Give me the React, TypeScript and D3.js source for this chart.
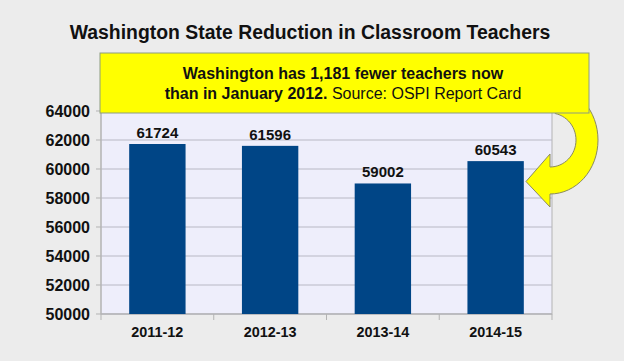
import React from "react";
import * as d3 from "d3";

const categories = ["2011-12", "2012-13", "2013-14", "2014-15"];
const values = [61724, 61596, 59002, 60543];
const yTicks = [50000, 52000, 54000, 56000, 58000, 60000, 62000, 64000];
const title = "Washington State Reduction in Classroom Teachers";
const noteLine1 = "Washington has 1,181 fewer teachers now";
const noteLine2Bold = "than in January 2012.";
const noteLine2Normal = " Source: OSPI Report Card";

const W = 624;
const H = 361;
const plot = { left: 101, right: 552, top: 111, bottom: 314 };

export default function App() {
  const x = d3
    .scaleBand<string>()
    .domain(categories)
    .range([plot.left, plot.right])
    .paddingInner(0.5)
    .paddingOuter(0.25);
  const y = d3.scaleLinear().domain([50000, 64000]).range([plot.bottom, plot.top]);
  const step = (plot.right - plot.left) / categories.length;

  // arrow geometry (U-turn)
  const cx = 550, cy = 140;
  const orx = 48, ory = 54, irx = 26, iry = 27;
  const arc = (rx: number, ry: number, a0: number, a1: number, n = 30) => {
    const pts: [number, number][] = [];
    for (let i = 0; i <= n; i++) {
      const a = a0 + ((a1 - a0) * i) / n;
      pts.push([cx + rx * Math.sin(a), cy - ry * Math.cos(a)]);
    }
    return pts;
  };
  const inner = arc(irx, iry, 0.2, Math.PI);
  const outer = arc(orx, ory, Math.PI, 0.2);
  const headTop = cy + iry - 13;
  const headBot = cy + ory + 13;
  const tipX = cx - 24;
  const tipY = (cy + iry + cy + ory) / 2 + 1;
  const arrowPts: [number, number][] = [
    ...inner,
    [cx, headTop],
    [tipX, tipY],
    [cx, headBot],
    ...outer,
  ];
  const arrowPath = d3.line()(arrowPts) + "Z";

  return (
    <svg
      width={W}
      height={H}
      style={{ position: "absolute", left: 0, top: 0, fontFamily: "'Liberation Sans', Arial, sans-serif" }}
    >
      <rect x={0} y={0} width={W} height={H} fill="#ececec" />
      <text x={310} y={39} textAnchor="middle" fontSize={19.4} fontWeight="bold" fill="#111">
        {title}
      </text>
      {/* plot area */}
      <rect
        x={plot.left}
        y={plot.top}
        width={plot.right - plot.left}
        height={plot.bottom - plot.top}
        fill="#eeeefb"
        stroke="#b3b3b3"
        strokeWidth={1}
      />
      {yTicks.map((t) => (
        <g key={t}>
          <line x1={plot.left} x2={plot.right} y1={y(t)} y2={y(t)} stroke="#b8b8c4" strokeWidth={1} />
          <line x1={plot.left - 5} x2={plot.left} y1={y(t)} y2={y(t)} stroke="#b3b3b3" strokeWidth={1} />
          <text x={90} y={y(t) + 5.5} textAnchor="end" fontSize={16} fontWeight="bold" fill="#111">
            {t}
          </text>
        </g>
      ))}
      {d3.range(categories.length + 1).map((i) => (
        <line
          key={i}
          x1={plot.left + i * step}
          x2={plot.left + i * step}
          y1={plot.bottom}
          y2={plot.bottom + 6}
          stroke="#b3b3b3"
        />
      ))}
      <line x1={plot.left} x2={plot.right} y1={plot.bottom} y2={plot.bottom} stroke="#b3b3b3" />
      <line x1={plot.left} x2={plot.left} y1={plot.top} y2={plot.bottom} stroke="#b3b3b3" />
      {categories.map((c, i) => (
        <g key={c}>
          <rect
            x={x(c)!}
            y={y(values[i])}
            width={x.bandwidth()}
            height={plot.bottom - y(values[i])}
            fill="#004586"
          />
          <text
            x={x(c)! + x.bandwidth() / 2}
            y={y(values[i]) - 6}
            textAnchor="middle"
            fontSize={15}
            fontWeight="bold"
            fill="#111"
          >
            {values[i]}
          </text>
          <text
            x={x(c)! + x.bandwidth() / 2}
            y={337}
            textAnchor="middle"
            fontSize={14.4}
            fontWeight="bold"
            fill="#111"
          >
            {c}
          </text>
        </g>
      ))}
      {/* arrow */}
      <path d={arrowPath} fill="#ffff00" stroke="#8a8a60" strokeWidth={1} />
      {/* callout box */}
      <rect x={100} y={53} width={489} height={60} fill="#ffff00" stroke="#8c9c80" strokeWidth={1} />
      <text x={343} y={79} textAnchor="middle" fontSize={16} fontWeight="bold" fill="#111">
        {noteLine1}
      </text>
      <text x={343} y={99} textAnchor="middle" fontSize={16} fill="#111">
        <tspan fontWeight="bold">{noteLine2Bold}</tspan>
        <tspan>{noteLine2Normal}</tspan>
      </text>
    </svg>
  );
}
